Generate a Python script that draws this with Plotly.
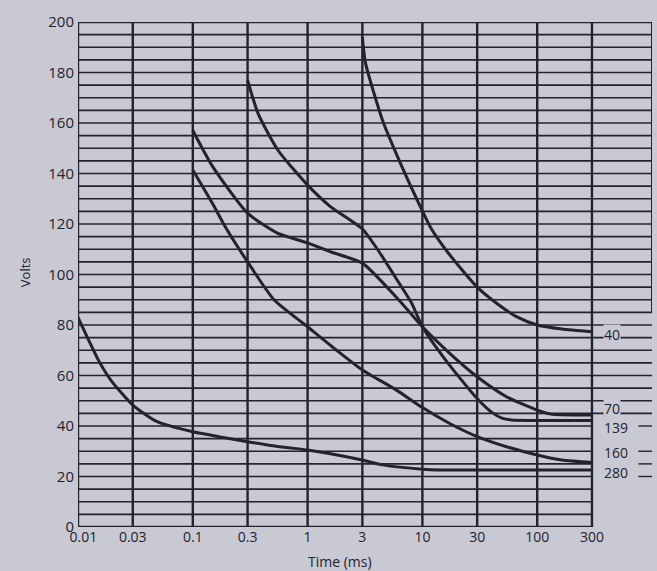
import math
import plotly.graph_objects as go

# Decay curves: time (ms) vs voltage, one series per labelled curve
t_40 = [3, 3.2, 4.5, 6.3, 8.9, 12, 16.8, 30, 44, 66, 100, 164, 300]
v_40 = [194, 183.6, 161, 145, 130, 118, 108.5, 95, 88.7, 83.3, 80, 78.4, 77.3]

t_70 = [0.1, 0.149, 0.3, 0.546, 1, 1.58, 3, 6.2, 10, 17.1, 30, 54, 100, 136, 300]
v_70 = [157, 142.7, 124.3, 116.4, 112.5, 109, 104.5, 90, 79.3, 69, 59.5, 51.6, 46.3, 44.6, 44.4]

t_139 = [0.3, 0.37, 0.55, 1, 1.58, 3, 4.1, 5.8, 8.05, 10, 16, 29, 40, 50, 60, 300]
v_139 = [177, 163.8, 149.3, 135.4, 126.9, 118, 109.7, 99, 88.7, 79.3, 66, 51.6, 45.5, 43, 42.4, 42.2]

t_160 = [0.1, 0.149, 0.194, 0.3, 0.51, 1, 1.79, 3, 5.9, 10, 17.3, 30, 54, 100, 164, 300]
v_160 = [141.4, 128, 118.5, 105, 90, 79.3, 70, 62.2, 54.3, 47.3, 41, 35.8, 31.8, 28.5, 26.5, 25.5]

t_280 = [0.01, 0.0151, 0.0193, 0.03, 0.049, 0.1, 0.168, 0.3, 0.57, 1, 1.5, 3, 4.5, 10, 14.7, 300]
v_280 = [83, 66, 58.2, 48.3, 41.7, 37.7, 35.8, 33.8, 31.8, 30.5, 29.2, 26.5, 24.6, 22.9, 22.6, 22.6]

curve_names = ["40", "70", "139", "160", "280"]
curve_label_v = [76.4, 47.0, 39.3, 29.6, 21.6]

x_ticks = [0.01, 0.03, 0.1, 0.3, 1, 3, 10, 30, 100, 300]
x_tick_text = ["   0.01", "0.03", "0.1", "0.3", "1", "3", "10", "30", "100", "300"]
y_ticks = list(range(0, 201, 20))

BG = "#c9c9d4"
INK = "#23232e"
FONT = "Open Sans"

series = [(t_40, v_40), (t_70, v_70), (t_139, v_139), (t_160, v_160), (t_280, v_280)]

fig = go.Figure()
for name, (t, v) in zip(curve_names, series):
    fig.add_trace(go.Scatter(
        x=t, y=v, mode="lines", name=name, showlegend=False,
        line=dict(color=INK, width=3, shape="spline", smoothing=0.6),
        hoverinfo="skip",
    ))

shapes = []
# vertical rulings at each time tick
for xv in x_ticks:
    shapes.append(dict(type="line", xref="x", yref="y", x0=xv, x1=xv, y0=0, y1=200,
                       layer="below", line=dict(color=INK, width=2.4)))
# right border of the upper grid (1000 ms)
shapes.append(dict(type="line", xref="x", yref="y", x0=1000, x1=1000, y0=85, y1=200,
                   layer="below", line=dict(color=INK, width=2)))
# horizontal rulings every 5 V
for v in range(0, 201, 5):
    x_end = 1000 if v >= 45 else 300
    w = 2.4 if v in (0, 200) else 1.6
    shapes.append(dict(type="line", xref="x", yref="y", x0=0.01, x1=x_end, y0=v, y1=v,
                       layer="below", line=dict(color=INK, width=w)))
# stubs of the rulings at the far right of the label panel
for v in (40, 30, 25, 20):
    shapes.append(dict(type="line", xref="x", yref="y", x0=760, x1=1000, y0=v, y1=v,
                       layer="below", line=dict(color=INK, width=1.4)))

annotations = []
for name, v in zip(curve_names, curve_label_v):
    annotations.append(dict(x=math.log10(300), y=v, xref="x", yref="y", text=name, showarrow=False,
                            xanchor="left", yanchor="middle", xshift=11,
                            font=dict(family=FONT, size=14, color=INK),
                            bgcolor=BG, borderpad=0))
annotations.append(dict(x=-0.092, y=0.505, xref="paper", yref="paper", text="Volts", textangle=-90,
                        xanchor="center", yanchor="middle",
                        showarrow=False, font=dict(family=FONT, size=13, color=INK)))
annotations.append(dict(x=0.456, y=-0.069, xref="paper", yref="paper", text="Time (ms)",
                        xanchor="center", yanchor="middle",
                        showarrow=False, font=dict(family=FONT, size=14, color=INK)))

fig.update_layout(
    width=657, height=571,
    margin=dict(l=78, r=5, t=22, b=44),
    paper_bgcolor=BG, plot_bgcolor=BG,
    shapes=shapes, annotations=annotations,
    xaxis=dict(type="log", range=[-2, 3], tickvals=x_ticks, ticktext=x_tick_text,
               showgrid=False, zeroline=False, showline=False, ticks="",
               tickfont=dict(family=FONT, size=14, color=INK)),
    yaxis=dict(range=[0, 200], tickvals=y_ticks, showgrid=False, zeroline=False,
               showline=False, ticks="", ticklabelstandoff=3,
               tickfont=dict(family=FONT, size=15, color=INK)),
)

fig.write_html("out.html")
